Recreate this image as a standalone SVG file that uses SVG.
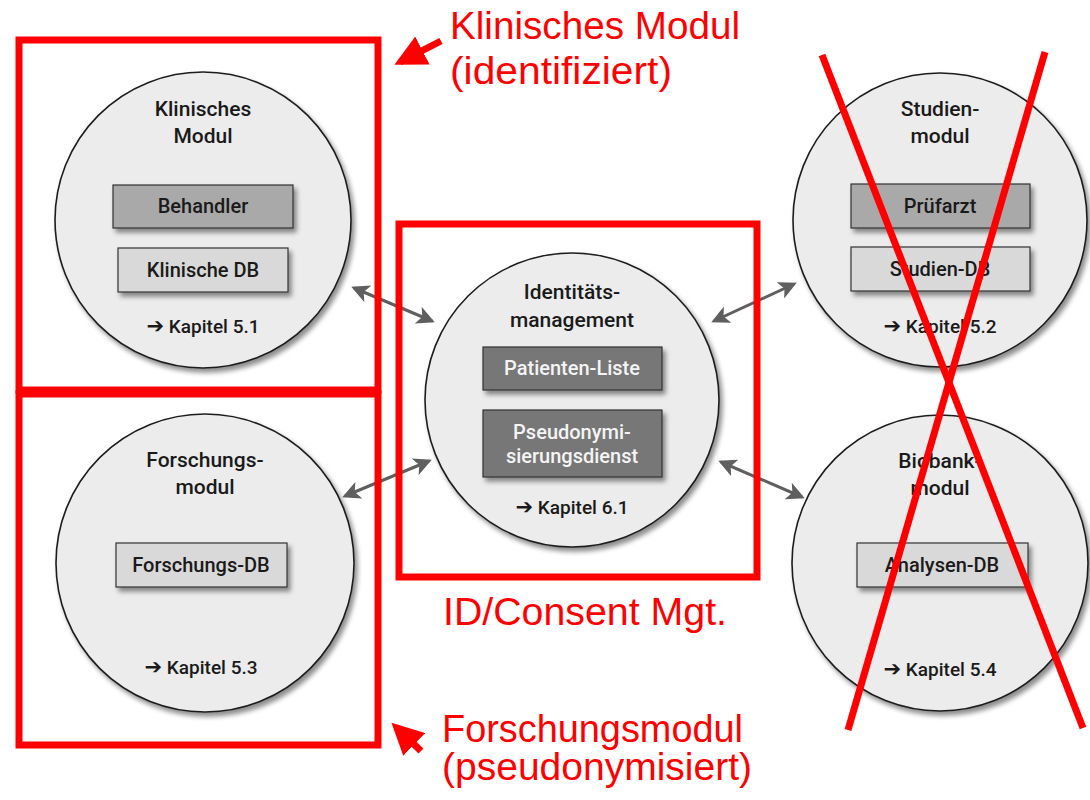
<svg xmlns="http://www.w3.org/2000/svg" width="1090" height="800" viewBox="0 0 1090 800">
  <defs>
    <filter id="shadow" x="-20%" y="-20%" width="150%" height="150%">
      <feGaussianBlur in="SourceAlpha" stdDeviation="2.5"/>
      <feOffset dx="3" dy="4" result="b"/>
      <feComponentTransfer><feFuncA type="linear" slope="0.45"/></feComponentTransfer>
      <feMerge><feMergeNode/><feMergeNode in="SourceGraphic"/></feMerge>
    </filter>
    <marker id="gh" viewBox="0 0 12 12" refX="10" refY="6" markerWidth="6" markerHeight="6" orient="auto-start-reverse" markerUnits="strokeWidth">
      <path d="M0,0 L12,6 L0,12 L3,6 Z" fill="#5f5f5f"/>
    </marker>
    <marker id="rh" viewBox="0 0 10 10" refX="8" refY="5" markerWidth="4.5" markerHeight="4.5" orient="auto" markerUnits="strokeWidth">
      <path d="M0,0 L10,5 L0,10 Z" fill="#ff0000"/>
    </marker>
  </defs>
  <style>
    .mod { fill: #ececec; stroke: #1e1e1e; stroke-width: 1.6; filter: url(#shadow); }
    .dark { fill: #a9a9a9; stroke: #333; stroke-width: 1.2; filter: url(#shadow); }
    .light { fill: #d9d9d9; stroke: #333; stroke-width: 1.2; filter: url(#shadow); }
    .core { fill: #777777; stroke: #333; stroke-width: 1.2; filter: url(#shadow); }
    .t { font-family: Roboto, "Liberation Sans", sans-serif; font-weight: 500; font-size: 21px; fill: #1a1a1a; text-anchor: middle; }
    .tb { font-family: Roboto, "Liberation Sans", sans-serif; font-weight: 500; font-size: 20px; fill: #1a1a1a; text-anchor: middle; }
    .tw { font-family: Roboto, "Liberation Sans", sans-serif; font-weight: 500; font-size: 20px; fill: #f4f4f4; text-anchor: middle; }
    .k { font-family: Roboto, "Liberation Sans", sans-serif; font-weight: 500; font-size: 19px; fill: #1a1a1a; text-anchor: middle; }
    .arr { font-family: "DejaVu Sans", sans-serif; font-weight: bold; font-size: 21px; }
    .conn { stroke: #5f5f5f; stroke-width: 3; fill: none; marker-start: url(#gh); marker-end: url(#gh); }
    .frame { fill: none; stroke: #ff0000; stroke-width: 7; }
    .cross { stroke: #ff0000; stroke-width: 7; stroke-linecap: butt; }
    .note { font-family: "Liberation Sans", Arial, sans-serif; font-size: 38px; fill: #ff0000; }
    .pointer { stroke: #ff0000; stroke-width: 7; marker-end: url(#rh); }
  </style>

  <rect width="1090" height="800" fill="#ffffff"/>

  <!-- module circles -->
  <g id="klinisches-modul">
    <circle class="mod" cx="203" cy="220" r="148"/>
    <text class="t" x="203" y="116">Klinisches</text>
    <text class="t" x="203" y="143">Modul</text>
    <rect class="dark" x="113" y="185" width="180" height="43"/>
    <text class="tb" x="203" y="213">Behandler</text>
    <rect class="light" x="118" y="248" width="170" height="44"/>
    <text class="tb" x="203" y="277">Klinische DB</text>
    <text class="k" x="203" y="333"><tspan class="arr">➔</tspan> Kapitel 5.1</text>
  </g>

  <g id="forschungsmodul">
    <circle class="mod" cx="205" cy="563" r="149"/>
    <text class="t" x="205" y="467">Forschungs-</text>
    <text class="t" x="205" y="494">modul</text>
    <rect class="light" x="116" y="543" width="171" height="44"/>
    <text class="tb" x="201" y="572">Forschungs-DB</text>
    <text class="k" x="201" y="674"><tspan class="arr">➔</tspan> Kapitel 5.3</text>
  </g>

  <g id="identitaetsmanagement">
    <circle class="mod" cx="572" cy="400" r="147"/>
    <text class="t" x="572" y="299">Identitäts-</text>
    <text class="t" x="572" y="327">management</text>
    <rect class="core" x="483" y="347" width="179" height="43"/>
    <text class="tw" x="572" y="375">Patienten-Liste</text>
    <rect class="core" x="483" y="410" width="179" height="67"/>
    <text class="tw" x="572" y="439">Pseudonymi-</text>
    <text class="tw" x="572" y="463">sierungsdienst</text>
    <text class="k" x="572" y="514"><tspan class="arr">➔</tspan> Kapitel 6.1</text>
  </g>

  <g id="studienmodul">
    <circle class="mod" cx="940" cy="220" r="147"/>
    <text class="t" x="940" y="116">Studien-</text>
    <text class="t" x="940" y="143">modul</text>
    <rect class="dark" x="851" y="184" width="179" height="44"/>
    <text class="tb" x="940" y="213">Prüfarzt</text>
    <rect class="light" x="851" y="247" width="179" height="44"/>
    <text class="tb" x="940" y="276">Studien-DB</text>
    <text class="k" x="940" y="333"><tspan class="arr">➔</tspan> Kapitel 5.2</text>
  </g>

  <g id="biobankmodul">
    <circle class="mod" cx="940" cy="563" r="148"/>
    <text class="t" x="940" y="468">Biobank-</text>
    <text class="t" x="940" y="495">modul</text>
    <rect class="light" x="857" y="543" width="171" height="44"/>
    <text class="tb" x="942" y="572">Analysen-DB</text>
    <text class="k" x="940" y="676"><tspan class="arr">➔</tspan> Kapitel 5.4</text>
  </g>

  <!-- links between modules and the identity management -->
  <g id="connectors">
    <line class="conn" x1="354" y1="288" x2="432" y2="321"/>
    <line class="conn" x1="345" y1="496" x2="429" y2="461"/>
    <line class="conn" x1="714" y1="321" x2="794" y2="284"/>
    <line class="conn" x1="721" y1="462" x2="802" y2="497"/>
  </g>

  <!-- red annotations -->
  <g id="annotations">
    <rect class="frame" x="19" y="40" width="359" height="350"/>
    <rect class="frame" x="19" y="394" width="359" height="351"/>
    <rect class="frame" x="399" y="224" width="358" height="353"/>
    <line class="cross" x1="822" y1="55" x2="1083" y2="728"/>
    <line class="cross" x1="1045" y1="52" x2="848" y2="730"/>
    <line class="pointer" x1="441" y1="41" x2="400" y2="62"/>
    <line class="pointer" x1="421" y1="751" x2="396" y2="727"/>
    <text class="note" x="450" y="39" textLength="290" lengthAdjust="spacingAndGlyphs">Klinisches Modul</text>
    <text class="note" x="450" y="84" textLength="222" lengthAdjust="spacingAndGlyphs">(identifiziert)</text>
    <text class="note" x="443" y="625" textLength="284" lengthAdjust="spacingAndGlyphs">ID/Consent Mgt.</text>
    <text class="note" x="442" y="742" textLength="301" lengthAdjust="spacingAndGlyphs">Forschungsmodul</text>
    <text class="note" x="442" y="780" textLength="310" lengthAdjust="spacingAndGlyphs">(pseudonymisiert)</text>
  </g>
</svg>
